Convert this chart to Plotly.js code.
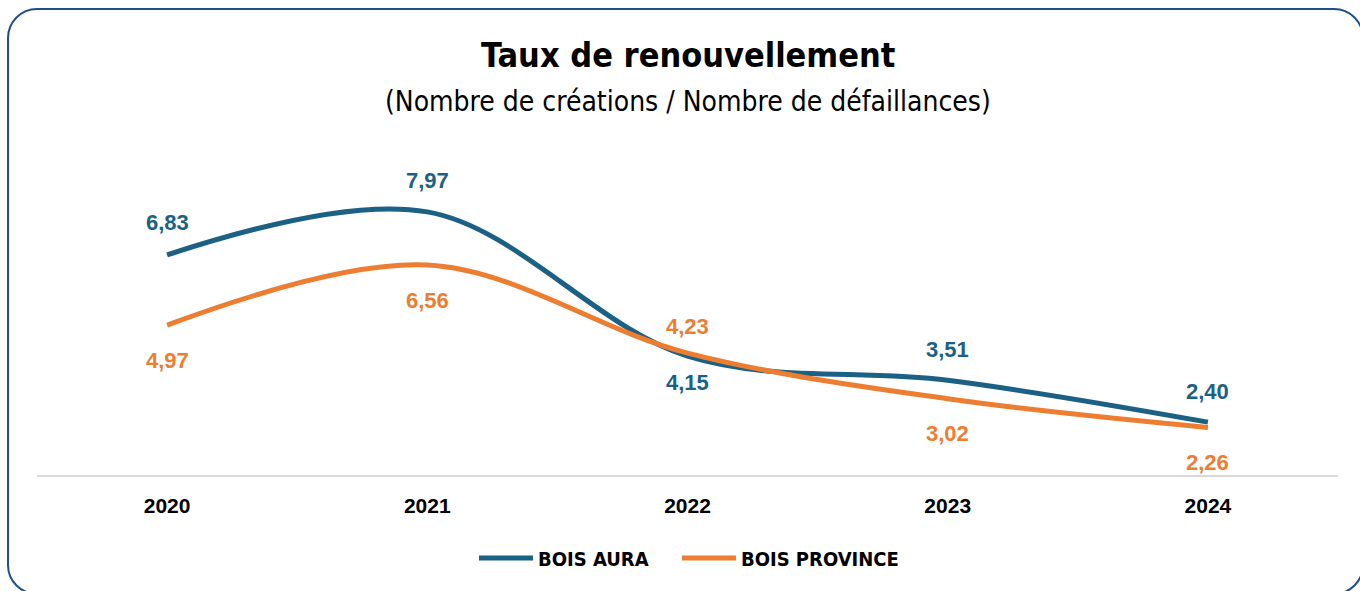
<!DOCTYPE html>
<html>
<head>
<meta charset="utf-8">
<script src="https://cdn.plot.ly/plotly-3.0.1.min.js"></script>
<style>
  html, body { margin: 0; padding: 0; background: #ffffff; overflow: hidden; }
  #chart { position: absolute; left: 0; top: 0; width: 1360px; height: 591px; }
  #frame { position: absolute; left: 7px; top: 8px; width: 1357px; height: 587px;
           border: 2.5px solid #1F4E89; border-radius: 30px; pointer-events: none; box-sizing: border-box; }
</style>
</head>
<body>
<div id="chart"></div>
<div id="frame"></div>
<script>
const years = ['2020', '2021', '2022', '2023', '2024'];
const boisAura = [6.83, 7.97, 4.15, 3.51, 2.40];
const boisProvince = [4.97, 6.56, 4.23, 3.02, 2.26];
const seriesNames = ['BOIS AURA', 'BOIS PROVINCE'];
const titleText = 'Taux de renouvellement';
const subtitleText = '(Nombre de créations / Nombre de défaillances)';

// label placement (style): vertical pixel shift of each data label
const auraLabelShift = [32, 31, -26, 31, 31];
const provinceLabelShift = [-35, -35, 27, -35, -35];

const blue = '#1B6185';
const orange = '#ED7D31';
const narrow = '"Liberation Sans Narrow", "DejaVu Sans Condensed", "Roboto", sans-serif';
const labelFont = '"Liberation Sans", Arial, sans-serif';

function fmt(v) { return v.toFixed(2).replace('.', ','); }

const traces = [
  { x: years, y: boisAura, name: seriesNames[0], type: 'scatter', mode: 'lines', legend: 'legend',
    line: { color: blue, width: 5, shape: 'spline', smoothing: 1 }, hoverinfo: 'skip' },
  { x: years, y: boisProvince, name: seriesNames[1], type: 'scatter', mode: 'lines', legend: 'legend2',
    line: { color: orange, width: 5, shape: 'spline', smoothing: 1 }, hoverinfo: 'skip' }
];

const annotations = [];
function addLabels(vals, shifts, color) {
  vals.forEach((v, i) => {
    // category axis: annotation x given as the category's serial index
    annotations.push({ x: i, y: v, xref: 'x', yref: 'y', text: '<b>' + fmt(v) + '</b>',
      showarrow: false, yshift: shifts[i],
      font: { family: labelFont, size: 22, color: color } });
  });
}
addLabels(boisAura, auraLabelShift, blue);
addLabels(boisProvince, provinceLabelShift, orange);

annotations.push({ xref: 'paper', yref: 'paper', x: 0.5, y: 1, yshift: 118, xanchor: 'center', yanchor: 'middle',
  text: '<b>' + titleText + '</b>', showarrow: false, font: { family: narrow, size: 34, color: '#000' } });
annotations.push({ xref: 'paper', yref: 'paper', x: 0.5, y: 1, yshift: 72, xanchor: 'center', yanchor: 'middle',
  text: subtitleText, showarrow: false, font: { family: narrow, size: 28, color: '#000' } });

const legendBase = { orientation: 'h', y: -0.275, yanchor: 'middle', xanchor: 'left',
  font: { family: narrow, size: 20, color: '#000', weight: 'bold' }, itemwidth: 54 };

const layout = {
  width: 1360, height: 591,
  margin: { l: 37, r: 22, t: 173, b: 116 },
  paper_bgcolor: 'rgba(0,0,0,0)', plot_bgcolor: 'rgba(0,0,0,0)',
  showlegend: true,
  legend: Object.assign({}, legendBase, { x: 0.3359 }),
  legend2: Object.assign({}, legendBase, { x: 0.4919 }),
  xaxis: { type: 'category', range: [-0.5, 4.5], showgrid: false, zeroline: false,
    showline: true, linecolor: '#D9D9D9', linewidth: 2, ticks: '', ticklabelstandoff: 11,
    tickfont: { family: labelFont, size: 21, color: '#000', weight: 'bold' } },
  yaxis: { range: [1, 9], visible: false, showgrid: false, zeroline: false },
  annotations: annotations
};

Plotly.newPlot('chart', traces, layout, { displayModeBar: false, staticPlot: true });
</script>
</body>
</html>
